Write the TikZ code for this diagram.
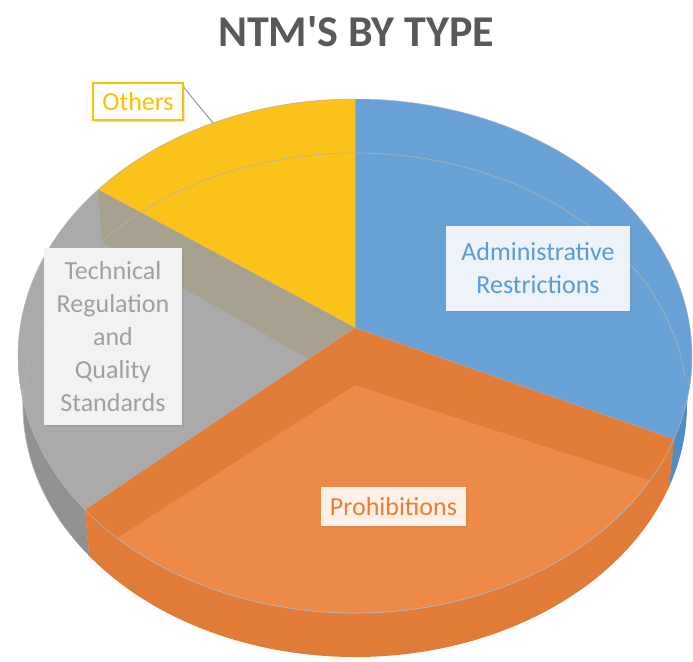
\documentclass[tikz,border=0pt]{standalone}
\usepackage{fontspec}
\newfontfamily\chartfont{Carlito}
\usetikzlibrary{shadows}

\definecolor{admblue}{RGB}{104,161,214}
\definecolor{admside}{RGB}{80,140,198}
\definecolor{proorange}{RGB}{238,138,72}
\definecolor{proband}{RGB}{225,124,56}
\definecolor{techgray}{RGB}{170,170,170}
\definecolor{techside}{RGB}{145,145,145}
\definecolor{techtan}{RGB}{166,162,143}
\definecolor{othyellow}{RGB}{251,194,26}
\definecolor{othtext}{RGB}{255,192,0}
\definecolor{titlegray}{RGB}{89,89,89}

\tikzset{
  slice/.style={draw=black!30, line width=0.5pt},
  rimline/.style={draw=black!30, line width=0.6pt},
  labelbox/.style={font=\chartfont\fontsize{26}{33}\selectfont, align=center, inner sep=0pt,
    drop shadow={opacity=0.18, shadow xshift=2pt, shadow yshift=-2pt}},
}

\begin{document}
\begin{tikzpicture}[x=1pt, y=-1pt]

\useasboundingbox (0,0) rectangle (693,661);
\fill[white] (0,0) rectangle (693,661);

\coordinate (apex)      at (355,328);
\coordinate (apexlow)   at (355,385);
\coordinate (rimtop)    at ([shift={(355,356)}]-90:337 and 257);
\coordinate (rimblue)   at ([shift={(355,356)}]18.9:337 and 257);
\coordinate (rimorange) at ([shift={(355,356)}]143.2:337 and 257);
\coordinate (rimgray)   at ([shift={(355,356)}]220.3:337 and 257);
\coordinate (lowblue)   at ([shift={(355,405)}]18.9:332 and 252);
\coordinate (loworange) at ([shift={(355,405)}]143.2:332 and 252);
\coordinate (lowgray)   at ([shift={(355,405)}]220.3:332 and 252);

% -------- side walls -----------
\fill[techside] (rimorange) arc[start angle=143.2, end angle=180, x radius=337, y radius=257]
  -- ([shift={(355,405)}]180:332 and 252) arc[start angle=180, end angle=143.2, x radius=332, y radius=252] -- cycle;
\fill[proband] (rimblue) arc[start angle=18.9, end angle=143.2, x radius=337, y radius=257]
  -- (loworange) arc[start angle=143.2, end angle=18.9, x radius=332, y radius=252] -- cycle;
\fill[admside] ([shift={(355,356)}]0:337 and 257) arc[start angle=0, end angle=18.9, x radius=337, y radius=257]
  -- (lowblue) arc[start angle=18.9, end angle=0, x radius=332, y radius=252] -- cycle;

% -------- top faces -----------
\filldraw[slice, fill=admblue] (apex) -- (rimtop) arc[start angle=-90, end angle=18.9, x radius=337, y radius=257] -- cycle;
\filldraw[slice, fill=othyellow] (apex) -- (rimgray) arc[start angle=220.3, end angle=270, x radius=337, y radius=257] -- cycle;
\filldraw[slice, fill=techgray] (apex) -- (rimorange) arc[start angle=143.2, end angle=220.3, x radius=337, y radius=257] -- cycle;
\fill[techtan] (apex) -- (rimgray) -- (lowgray) -- (apexlow) -- cycle;
\filldraw[slice, fill=proorange] (apex) -- (rimblue) arc[start angle=18.9, end angle=143.2, x radius=337, y radius=257] -- cycle;
\fill[proband] (apex) -- (rimblue) -- (lowblue) -- (apexlow) -- cycle;
\fill[proband] (apex) -- (rimorange) -- (loworange) -- (apexlow) -- cycle;
\draw[rimline] (rimblue) arc[start angle=18.9, end angle=143.2, x radius=337, y radius=257];
\draw[rimline] ([shift={(355,405)}]150:332 and 252) arc[start angle=150, end angle=354, x radius=332, y radius=252];

% -------- labels -----------
\node[font=\chartfont\bfseries\fontsize{44}{50}\selectfont, text=titlegray] (title) at (356,32) {NTM'S BY TYPE};

\node[labelbox, draw=othtext, line width=1.5pt, fill=white, text=othtext,
  minimum width=90pt, minimum height=37pt] (others) at (138,101.5) {Others};
\coordinate (othersend) at (213,123);
\draw[black!40, line width=1pt] ([yshift=-5pt]others.north east) -- (othersend);

\node[labelbox, fill={rgb,255:red,242;green,242;blue,242}, text={rgb,255:red,160;green,160;blue,160},
  minimum width=138pt, minimum height=177pt] (tech) at (113,336.5)
  {Technical\\Regulation\\and\\Quality\\Standards};

\node[labelbox, fill={rgb,255:red,238;green,243;blue,250}, text={rgb,255:red,91;green,155;blue,213},
  minimum width=184pt, minimum height=85pt] (admin) at (538,268.5)
  {Administrative\\Restrictions};

\node[labelbox, fill={rgb,255:red,253;green,240;blue,233}, text={rgb,255:red,237;green,125;blue,49},
  minimum width=145pt, minimum height=39pt] (prohib) at (393.5,506.5) {Prohibitions};

\end{tikzpicture}
\end{document}
